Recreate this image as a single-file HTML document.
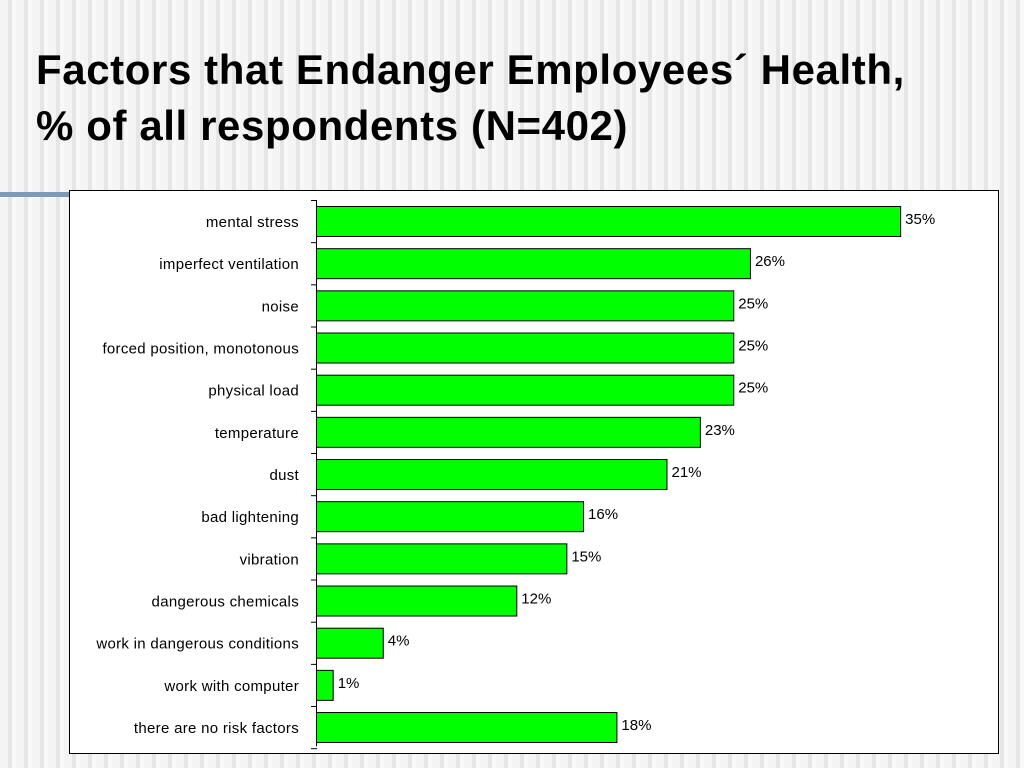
<!DOCTYPE html>
<html><head><meta charset="utf-8"><style>
body{margin:0;width:1024px;height:768px;overflow:hidden;font-family:"Liberation Sans",Arial,sans-serif;
background:repeating-linear-gradient(90deg,#f4f4f4 0px,#f4f4f4 8px,#e6e6e6 8px,#e6e6e6 12px,#f8f8f8 12px,#f8f8f8 16px);position:relative}
h1{position:absolute;left:36px;top:42px;margin:0;font-size:42px;line-height:56px;font-weight:bold;color:#000;letter-spacing:0.6px;white-space:nowrap}
</style></head><body>
<h1>Factors that Endanger Employees´ Health,<br>% of all respondents (N=402)</h1>
<div style="position:absolute;left:0;top:192px;width:69px;height:5px;background:#7f9ab8"></div>
<svg id="chart" width="1024" height="768" style="position:absolute;left:0;top:0">
<rect x="69.5" y="190.5" width="929" height="563" fill="#fff" stroke="#000"/>
</svg>
<script>
const categories=["mental stress","imperfect ventilation","noise","forced position, monotonous","physical load","temperature","dust","bad lightening","vibration","dangerous chemicals","work in dangerous conditions","work with computer","there are no risk factors"];
const values=[35,26,25,25,25,23,21,16,15,12,4,1,18];
const valueLabels=["35%","26%","25%","25%","25%","23%","21%","16%","15%","12%","4%","1%","18%"];
const svg=document.getElementById('chart');const NS='http://www.w3.org/2000/svg';
const x0=316,pxPer=16.69,top0=200,band=42.17;
const xs=v=>x0+v*pxPer;const yb=i=>top0+i*band;
function mk(t,a){const e=document.createElementNS(NS,t);for(const k in a)e.setAttribute(k,a[k]);svg.appendChild(e);return e;}
const ax=mk('line',{x1:x0+0.5,x2:x0+0.5,y1:yb(0),y2:yb(categories.length)-2,stroke:'#000'});


for(let i=0;i<=categories.length;i++){
 const t=mk('line',{x1:x0-5,x2:x0+1,y1:yb(i)+0.5,y2:yb(i)+0.5,stroke:'#000'});
 
 
}
categories.forEach((c,i)=>{
 const y=yb(i)+6;
 const r=mk('rect',{x:x0+0.5,y:y+0.5,width:xs(values[i])-x0,height:30,fill:'#00ff00',stroke:'#000'});
 
 
 const l=mk('text',{x:x0-17,y:y+21,'text-anchor':'end','font-size':'15','letter-spacing':'0.3','font-family':'Liberation Sans, sans-serif',fill:'#000'});
 l.textContent=c;
 
 
 const v=mk('text',{x:xs(values[i])+5,y:y+18,'font-size':'15','font-family':'Liberation Sans, sans-serif',fill:'#000'});
 v.textContent=valueLabels[i];
 
 
});
</script>
</body></html>
